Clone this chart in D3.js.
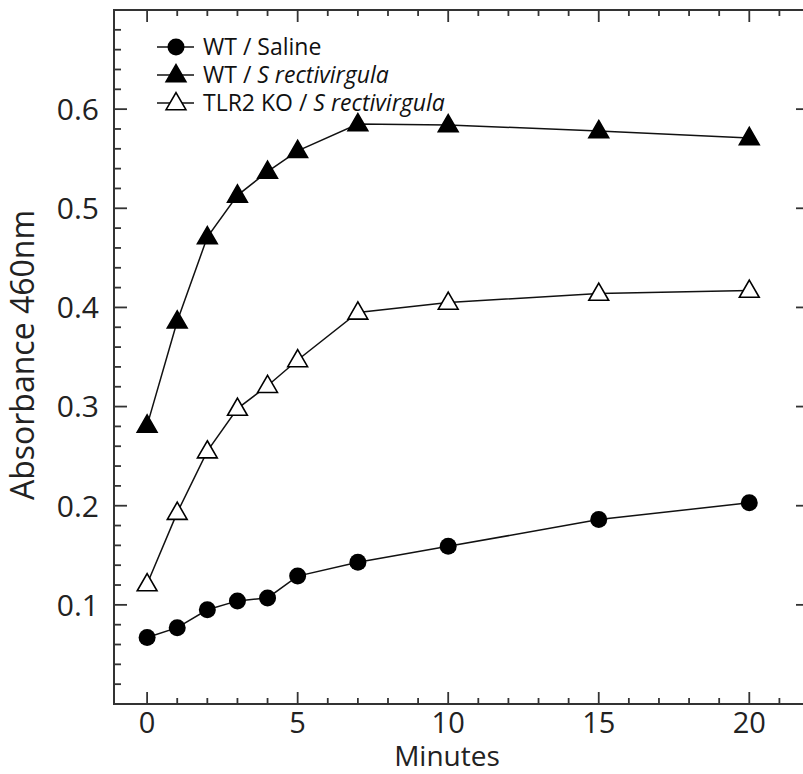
<!DOCTYPE html>
<html>
<head>
<meta charset="utf-8">
<script src="https://cdn.jsdelivr.net/npm/d3@7"></script>
<style>
  body { margin: 0; background: #fff; }
  svg { display: block; font-family: "Open Sans", "Noto Sans", sans-serif; }
</style>
</head>
<body>
<div id="app"></div>
<script>
const minutes = [0, 1, 2, 3, 4, 5, 7, 10, 15, 20];
const wtSaline = [0.067, 0.077, 0.095, 0.104, 0.107, 0.129, 0.143, 0.159, 0.186, 0.203];
const wtSrect = [0.281, 0.386, 0.471, 0.513, 0.537, 0.558, 0.585, 0.584, 0.578, 0.571];
const koSrect = [0.121, 0.193, 0.255, 0.298, 0.321, 0.347, 0.395, 0.405, 0.414, 0.417];
const xTicks = [0, 5, 10, 15, 20];
const yTicks = [0.1, 0.2, 0.3, 0.4, 0.5, 0.6];

const series = [
  { name: 'WT / ', italic: 'Saline', plain: true, values: wtSaline, shape: 'circle', fill: '#000' },
  { name: 'WT / ', italic: 'S rectivirgula', values: wtSrect, shape: 'triangle', fill: '#000' },
  { name: 'TLR2 KO / ', italic: 'S rectivirgula', values: koSrect, shape: 'triangle', fill: '#fff' }
];

const w = 803, h = 774;
const plotLeft = 114, plotRight = 808, plotTop = 10, plotBottom = 704;

const svg = d3.select('#app')
  .append('svg')
  .attr('width', w)
  .attr('height', h);

const x = d3.scaleLinear().domain([-1.1, 21.95]).range([plotLeft, plotRight]);
const y = d3.scaleLinear().domain([0, 0.7]).range([plotBottom, plotTop]);

const axisColor = '#333';

// frame
svg.append('rect')
  .attr('x', plotLeft).attr('y', plotTop)
  .attr('width', plotRight - plotLeft).attr('height', plotBottom - plotTop)
  .attr('fill', 'none')
  .attr('stroke', axisColor)
  .attr('stroke-width', 2);

// x ticks, bottom and top
const xMinor = d3.range(0, 22, 1);
svg.append('g').selectAll('line')
  .data(xMinor)
  .join('line')
  .attr('x1', d => x(d)).attr('x2', d => x(d))
  .attr('y1', plotBottom).attr('y2', d => plotBottom - (d % 5 === 0 ? 12 : 6))
  .attr('stroke', axisColor).attr('stroke-width', 1.8);

svg.append('g').selectAll('line')
  .data(xMinor)
  .join('line')
  .attr('x1', d => x(d)).attr('x2', d => x(d))
  .attr('y1', plotTop).attr('y2', d => plotTop + (d % 5 === 0 ? 12 : 6))
  .attr('stroke', axisColor).attr('stroke-width', 1.8);

// y ticks, left (major + minor) and right (major)
const yMinor = d3.range(1, 35).map(i => i * 0.02);
svg.append('g').selectAll('line')
  .data(yMinor)
  .join('line')
  .attr('x1', plotLeft).attr('x2', (d, i) => plotLeft + ((i + 1) % 5 === 0 ? 13 : 7))
  .attr('y1', d => y(d)).attr('y2', d => y(d))
  .attr('stroke', axisColor).attr('stroke-width', 1.8);

svg.append('g').selectAll('line')
  .data(yTicks)
  .join('line')
  .attr('x1', plotRight).attr('x2', plotRight - 12)
  .attr('y1', d => y(d)).attr('y2', d => y(d))
  .attr('stroke', axisColor).attr('stroke-width', 1.8);

// tick labels
svg.append('g').selectAll('text')
  .data(xTicks)
  .join('text')
  .attr('x', d => x(d))
  .attr('y', 733)
  .attr('text-anchor', 'middle')
  .attr('font-size', 29)
  .attr('fill', '#222')
  .text(d => d);

svg.append('g').selectAll('text')
  .data(yTicks)
  .join('text')
  .attr('x', 99)
  .attr('y', d => y(d))
  .attr('dy', '0.36em')
  .attr('text-anchor', 'end')
  .attr('font-size', 30)
  .attr('fill', '#222')
  .text(d => d3.format('.1f')(d));

// axis titles
svg.append('text')
  .attr('x', 447)
  .attr('y', 766)
  .attr('text-anchor', 'middle')
  .attr('font-size', 28)
  .attr('fill', '#222')
  .text('Minutes');

svg.append('text')
  .attr('transform', 'translate(34,355) rotate(-90)')
  .attr('text-anchor', 'middle')
  .attr('font-size', 32)
  .attr('fill', '#222')
  .text('Absorbance 460nm');

// markers
const triangle = d3.symbol().type(d3.symbolTriangle).size(170);

function drawMarker(g, s, cx, cy) {
  if (s.shape === 'circle') {
    g.append('circle')
      .attr('cx', cx).attr('cy', cy).attr('r', 8.5)
      .attr('fill', s.fill);
  } else {
    g.append('path')
      .attr('d', triangle())
      .attr('transform', 'translate(' + cx + ',' + (cy + 1) + ')')
      .attr('fill', s.fill)
      .attr('stroke', '#000')
      .attr('stroke-width', 1.6);
  }
}

const line = d3.line()
  .x(d => x(d[0]))
  .y(d => y(d[1]));

series.forEach(s => {
  const pts = minutes.map((m, i) => [m, s.values[i]]);
  svg.append('path')
    .datum(pts)
    .attr('d', line)
    .attr('fill', 'none')
    .attr('stroke', '#111')
    .attr('stroke-width', 1.5);
  const g = svg.append('g');
  pts.forEach(p => drawMarker(g, s, x(p[0]), y(p[1])));
});

// legend
const legendY = [47, 75, 103];
series.forEach((s, i) => {
  const ly = legendY[i];
  svg.append('line')
    .attr('x1', 157).attr('x2', 194)
    .attr('y1', ly).attr('y2', ly)
    .attr('stroke', '#111').attr('stroke-width', 1.5);
  drawMarker(svg, s, 176, ly);
  const t = svg.append('text')
    .attr('x', 203)
    .attr('y', ly)
    .attr('dy', '0.35em')
    .attr('font-size', 23)
    .attr('fill', '#111');
  t.append('tspan').text(s.name);
  t.append('tspan')
    .attr('font-style', s.plain ? 'normal' : 'italic')
    .text(s.italic);
});
</script>
</body>
</html>
